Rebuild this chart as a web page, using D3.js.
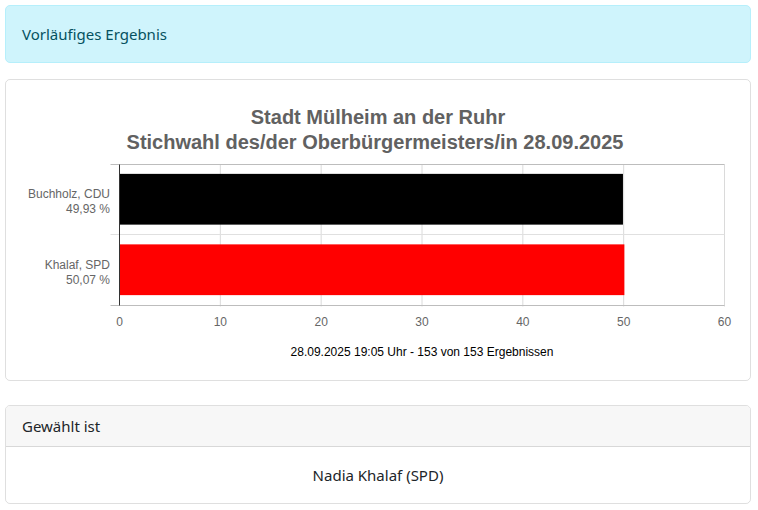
<!DOCTYPE html>
<html lang="de">
<head>
<meta charset="utf-8">
<title>Stichwahl Mülheim an der Ruhr</title>
<script src="https://cdn.jsdelivr.net/npm/d3@7"></script>
<style>
  html, body { margin: 0; padding: 0; background: #fff; }
  body { width: 758px; height: 510px; position: relative; overflow: hidden; font-family: "Noto Sans", sans-serif; color: #212529; font-size: 15px; }
  .box { position: absolute; left: 5px; width: 746px; box-sizing: border-box; border-radius: 5px; border: 1px solid rgba(0,0,0,.125); }
  .alert { top: 5px; height: 58px; background: #cff4fc; border-color: #b6effb; color: #055160; line-height: 56px; padding-left: 16px; }
  .chart-card { top: 79px; height: 302px; }
  .result-card { top: 405px; height: 99px; }
  .result-card .head { height: 40px; line-height: 40px; padding-left: 16px; background: #f7f7f7; border-bottom: 1px solid rgba(0,0,0,.125); border-radius: 4px 4px 0 0; }
  .result-card .body { text-align: center; line-height: 57px; }
  svg { position: absolute; left: 0; top: 0; }
  svg text { font-family: "Liberation Sans", Arial, sans-serif; }
</style>
</head>
<body>
<div class="box alert">Vorläufiges Ergebnis</div>
<div class="box chart-card"></div>
<div class="box result-card">
  <div class="head">Gewählt ist</div>
  <div class="body">Nadia Khalaf (SPD)</div>
</div>
<svg id="chart" width="758" height="510"></svg>
<script>
const titleLines = ['Stadt Mülheim an der Ruhr', 'Stichwahl des/der Oberbürgermeisters/in 28.09.2025']
const candidates = ['Buchholz, CDU', 'Khalaf, SPD']
const percents = [49.93, 50.07]
const barColors = ['#000000', '#ff0000']
const xTicks = [0, 10, 20, 30, 40, 50, 60]
const footer = '28.09.2025 19:05 Uhr - 153 von 153 Ergebnissen'

const plot = { left: 119.5, right: 724.5, top: 164, bottom: 305 }
const svg = d3.select('#chart')

const x = d3.scaleLinear().domain([0, 60]).range([plot.left, plot.right])
const y = d3.scaleBand().domain(candidates).range([plot.top, plot.bottom]).paddingInner(0).paddingOuter(0)
const barHeight = y.bandwidth() * 0.72
const fmt = v => v.toFixed(2).replace('.', ',') + ' %'
const crisp = v => Math.floor(v) + 0.5

// the first title line sits a little right of the second in the original
svg.append('g').selectAll('text')
  .data(titleLines)
  .join('text')
  .attr('x', (d, i) => i === 0 ? 378 : 375)
  .attr('y', (d, i) => 123.5 + i * 25)
  .attr('text-anchor', 'middle')
  .attr('font-size', 20)
  .attr('font-weight', 700)
  .attr('fill', '#616161')
  .text(d => d)

// vertical grid lines, top and bottom borders
svg.append('g').selectAll('line')
  .data(xTicks.slice(1))
  .join('line')
  .attr('x1', d => x(d)).attr('x2', d => x(d))
  .attr('y1', crisp(plot.top)).attr('y2', crisp(plot.bottom) + 1)
  .attr('stroke', '#dadada')

const rowEdges = [plot.top, y(candidates[1]), plot.bottom]
svg.append('g').selectAll('line')
  .data(rowEdges)
  .join('line')
  .attr('x1', plot.left - 9).attr('x2', plot.right)
  .attr('y1', d => crisp(d)).attr('y2', d => crisp(d))
  .attr('stroke', (d, i) => i === 1 ? '#e0e0e0' : '#bdbdbd')

svg.append('g').selectAll('rect')
  .data(candidates)
  .join('rect')
  .attr('x', x(0))
  .attr('y', d => y(d) + (y.bandwidth() - barHeight) / 2)
  .attr('width', (d, i) => x(percents[i]) - x(0))
  .attr('height', barHeight)
  .attr('fill', (d, i) => barColors[i])

svg.append('line')
  .attr('x1', x(0)).attr('x2', x(0))
  .attr('y1', crisp(plot.top)).attr('y2', crisp(plot.bottom))
  .attr('stroke', '#333')

svg.append('g').selectAll('text')
  .data(xTicks)
  .join('text')
  .attr('x', d => x(d))
  .attr('y', 326)
  .attr('text-anchor', 'middle')
  .attr('font-size', 12)
  .attr('fill', '#666')
  .text(d => d)

const labels = svg.append('g').selectAll('text')
  .data(candidates)
  .join('text')
  .attr('text-anchor', 'end')
  .attr('font-size', 12)
  .attr('fill', '#666')
labels.append('tspan')
  .attr('x', 110)
  .attr('y', d => y(d) + y.bandwidth() / 2 - 1)
  .text(d => d)
labels.append('tspan')
  .attr('x', 110)
  .attr('y', d => y(d) + y.bandwidth() / 2 + 14)
  .text((d, i) => fmt(percents[i]))

svg.append('text')
  .attr('x', 422)
  .attr('y', 356)
  .attr('text-anchor', 'middle')
  .attr('font-size', 12)
  .attr('fill', '#000')
  .text(footer)
</script>
</body>
</html>
